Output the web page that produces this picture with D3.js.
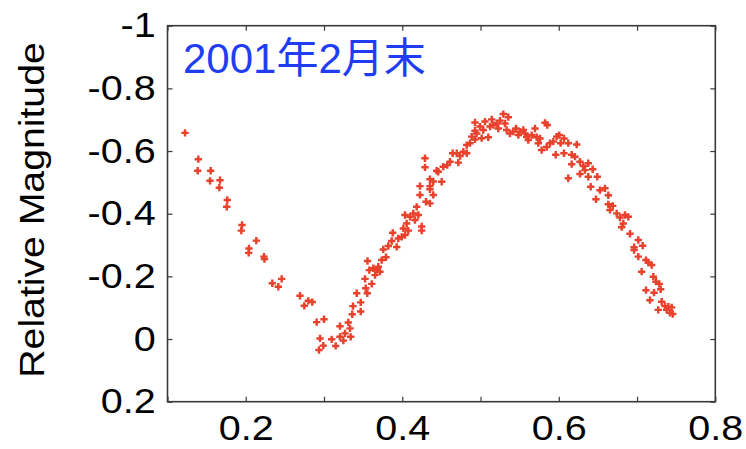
<!DOCTYPE html>
<html>
<head>
<meta charset="utf-8">
<script src="https://cdn.jsdelivr.net/npm/d3@7/dist/d3.min.js"></script>
<style>
  html, body { margin: 0; padding: 0; background: #fff; }
  svg { display: block; }
</style>
</head>
<body>
<svg id="chart" width="746" height="449"></svg>
<script>
// Light-curve observations: rotational phase vs. relative magnitude
const phase = [
  0.1224, 0.1394, 0.1386, 0.1552, 0.1543, 0.1671, 0.1662, 0.1764, 0.1757, 0.1952,
  0.1943, 0.2135, 0.2041, 0.2038, 0.2233, 0.2239, 0.2339, 0.2416, 0.2459, 0.2693,
  0.2799, 0.2850, 0.2748, 0.2906, 0.3000, 0.2949, 0.3098, 0.2991, 0.2936, 0.3149,
  0.3204, 0.3204, 0.3268, 0.3310, 0.3332, 0.3341, 0.3247, 0.3361, 0.3370, 0.3418,
  0.3469, 0.3469, 0.3524, 0.3533, 0.3553, 0.3556, 0.3579, 0.3610, 0.3630, 0.3673,
  0.3652, 0.3715, 0.3693, 0.3737, 0.3792, 0.3757, 0.3821, 0.3865, 0.3878, 0.3929,
  0.3949, 0.3993, 0.4035, 0.4013, 0.4056, 0.4077, 0.4035, 0.4099, 0.4141, 0.4184,
  0.4162, 0.4205, 0.4248, 0.4248, 0.4226, 0.4226, 0.4303, 0.4354, 0.4354, 0.4396,
  0.4354, 0.4460, 0.4396, 0.4354, 0.4290, 0.4290, 0.4440, 0.4524, 0.4504, 0.4575,
  0.4610, 0.4644, 0.4696, 0.4716, 0.4738, 0.4780, 0.4824, 0.4824, 0.4865, 0.4887,
  0.4929, 0.4929, 0.4951, 0.4929, 0.4993, 0.5015, 0.5035, 0.5057, 0.5099, 0.5121,
  0.5143, 0.5164, 0.5207, 0.5227, 0.5249, 0.5291, 0.5313, 0.5355, 0.5334, 0.5376,
  0.5419, 0.5453, 0.5483, 0.5504, 0.5547, 0.5569, 0.5590, 0.5610, 0.5654, 0.5696,
  0.5718, 0.5738, 0.5781, 0.5824, 0.5853, 0.5845, 0.5888, 0.5930, 0.5973, 0.5961,
  0.5760, 0.6006, 0.6066, 0.6024, 0.6121, 0.6229, 0.6066, 0.6165, 0.6207, 0.6165,
  0.6271, 0.6313, 0.6377, 0.6335, 0.6271, 0.6433, 0.6121, 0.6377, 0.6492, 0.6408,
  0.6526, 0.6590, 0.6633, 0.6475, 0.6633, 0.6689, 0.6654, 0.6740, 0.6782, 0.6846,
  0.6888, 0.6824, 0.6804, 0.6910, 0.7016, 0.7072, 0.6962, 0.6962, 0.7016, 0.7114,
  0.7144, 0.7187, 0.7059, 0.7208, 0.7242, 0.7284, 0.7114, 0.7217, 0.7302, 0.7165,
  0.7315, 0.7357, 0.7400, 0.7443, 0.7271, 0.7379, 0.7421, 0.7456
];
const magnitude = [
  -0.658, -0.574, -0.537, -0.537, -0.505, -0.507, -0.483, -0.444, -0.422, -0.364,
  -0.346, -0.314, -0.289, -0.275, -0.263, -0.255, -0.178, -0.167, -0.192, -0.138,
  -0.122, -0.118, -0.106, -0.054, -0.063, -0.002, 0.001, 0.021, 0.035, 0.022,
  -0.007, -0.041, -0.018, -0.053, -0.034, -0.007, 0.005, -0.079, -0.105, -0.146,
  -0.117, -0.088, -0.192, -0.162, -0.146, -0.249, -0.220, -0.176, -0.226, -0.220,
  -0.204, -0.215, -0.231, -0.252, -0.261, -0.286, -0.297, -0.313, -0.339, -0.294,
  -0.321, -0.326, -0.332, -0.353, -0.369, -0.346, -0.396, -0.390, -0.401, -0.422,
  -0.380, -0.396, -0.359, -0.346, -0.488, -0.460, -0.438, -0.433, -0.488, -0.503,
  -0.510, -0.534, -0.460, -0.478, -0.577, -0.548, -0.537, -0.550, -0.502, -0.555,
  -0.566, -0.593, -0.593, -0.563, -0.584, -0.598, -0.593, -0.619, -0.625, -0.646,
  -0.637, -0.665, -0.656, -0.691, -0.678, -0.641, -0.667, -0.694, -0.644, -0.678,
  -0.701, -0.683, -0.688, -0.672, -0.697, -0.718, -0.688, -0.708, -0.667, -0.656,
  -0.662, -0.672, -0.651, -0.662, -0.667, -0.656, -0.645, -0.635, -0.651, -0.672,
  -0.644, -0.625, -0.603, -0.690, -0.683, -0.613, -0.625, -0.630, -0.646, -0.588,
  -0.640, -0.651, -0.640, -0.625, -0.625, -0.621, -0.593, -0.588, -0.582, -0.558,
  -0.566, -0.552, -0.561, -0.539, -0.527, -0.542, -0.513, -0.518, -0.518, -0.486,
  -0.475, -0.481, -0.459, -0.446, -0.430, -0.425, -0.412, -0.401, -0.388, -0.396,
  -0.390, -0.369, -0.357, -0.336, -0.316, -0.298, -0.293, -0.284, -0.263, -0.252,
  -0.244, -0.236, -0.215, -0.199, -0.183, -0.176, -0.156, -0.148, -0.159, -0.124,
  -0.119, -0.105, -0.103, -0.101, -0.093, -0.093, -0.084, -0.080
];

const xTicks = [0.1, 0.2, 0.3, 0.4, 0.5, 0.6, 0.7, 0.8];
const xTickLabels = ["", "0.2", "", "0.4", "", "0.6", "", "0.8"];
const yTicks = [-1, -0.8, -0.6, -0.4, -0.2, 0, 0.2];
const yTickLabels = ["-1", "-0.8", "-0.6", "-0.4", "-0.2", "0", "0.2"];

const titleText = "2001年2月末";
const yAxisTitle = "Relative Magnitude";

const svg = d3.select("#chart");
const plotLeft = 167.5, plotRight = 715.3, plotTop = 25.7, plotBottom = 401.7;

const x = d3.scaleLinear().domain([0.1, 0.8]).range([plotLeft, plotRight]);
const y = d3.scaleLinear().domain([-1, 0.2]).range([plotTop, plotBottom]);

const frameColor = "#3a3a3a";
const labelFont = "'Liberation Sans', Arial, Helvetica, sans-serif";

// Frame
svg.append("rect")
  .attr("x", plotLeft).attr("y", plotTop)
  .attr("width", plotRight - plotLeft).attr("height", plotBottom - plotTop)
  .attr("fill", "none").attr("stroke", frameColor).attr("stroke-width", 1.6);

function styleAxis(g) {
  g.select(".domain").remove();
  g.selectAll(".tick line").attr("stroke", frameColor).attr("stroke-width", 1.2);
  g.selectAll(".tick text")
    .attr("fill", "#000")
    .style("font-family", labelFont)
    .style("font-size", "35px");
}

const xLabel = d => xTickLabels[xTicks.indexOf(d)];
const yLabel = d => yTickLabels[yTicks.indexOf(d)];

// Bottom axis with labels
const gx = svg.append("g").attr("transform", `translate(0,${plotBottom})`)
  .call(d3.axisBottom(x).tickValues(xTicks).tickSizeInner(-5).tickSizeOuter(0)
    .tickPadding(13).tickFormat(xLabel))
  .call(styleAxis);
gx.selectAll(".tick text").attr("transform", "scale(1.13,1)");

// Top axis, ticks only
svg.append("g").attr("transform", `translate(0,${plotTop})`)
  .call(d3.axisTop(x).tickValues(xTicks).tickSizeInner(-5).tickSizeOuter(0).tickFormat(""))
  .call(styleAxis);

// Left axis with labels
const gy = svg.append("g").attr("transform", `translate(${plotLeft},0)`)
  .call(d3.axisLeft(y).tickValues(yTicks).tickSizeInner(-5).tickSizeOuter(0)
    .tickPadding(10.5).tickFormat(yLabel))
  .call(styleAxis);
gy.selectAll(".tick text").attr("transform", "scale(1.13,1)");

// Right axis, ticks only
svg.append("g").attr("transform", `translate(${plotRight},0)`)
  .call(d3.axisRight(y).tickValues(yTicks).tickSizeInner(-5).tickSizeOuter(0).tickFormat(""))
  .call(styleAxis);

// Y axis title
svg.append("text")
  .attr("transform", "translate(43.5,210) rotate(-90) scale(1.12,1)")
  .attr("text-anchor", "middle")
  .style("font-family", labelFont)
  .style("font-size", "35px")
  .attr("fill", "#000")
  .text(yAxisTitle);

// Data markers
const pts = phase.map((p, i) => ({ p, m: magnitude[i] }));
const cross = d3.symbol().type(d3.symbolCross).size(30);
svg.append("g")
  .selectAll("path")
  .data(pts)
  .join("path")
  .attr("d", cross)
  .attr("transform", d => `translate(${x(d.p)},${y(d.m)})`)
  .attr("fill", "#e8412c");

// Panel title
svg.append("text")
  .attr("x", 183).attr("y", 72.5)
  .style("font-family", "'Liberation Sans', 'Noto Sans CJK SC', sans-serif")
  .style("font-size", "42px")
  .attr("fill", "#1f3df5")
  .text(titleText);
</script>
</body>
</html>
